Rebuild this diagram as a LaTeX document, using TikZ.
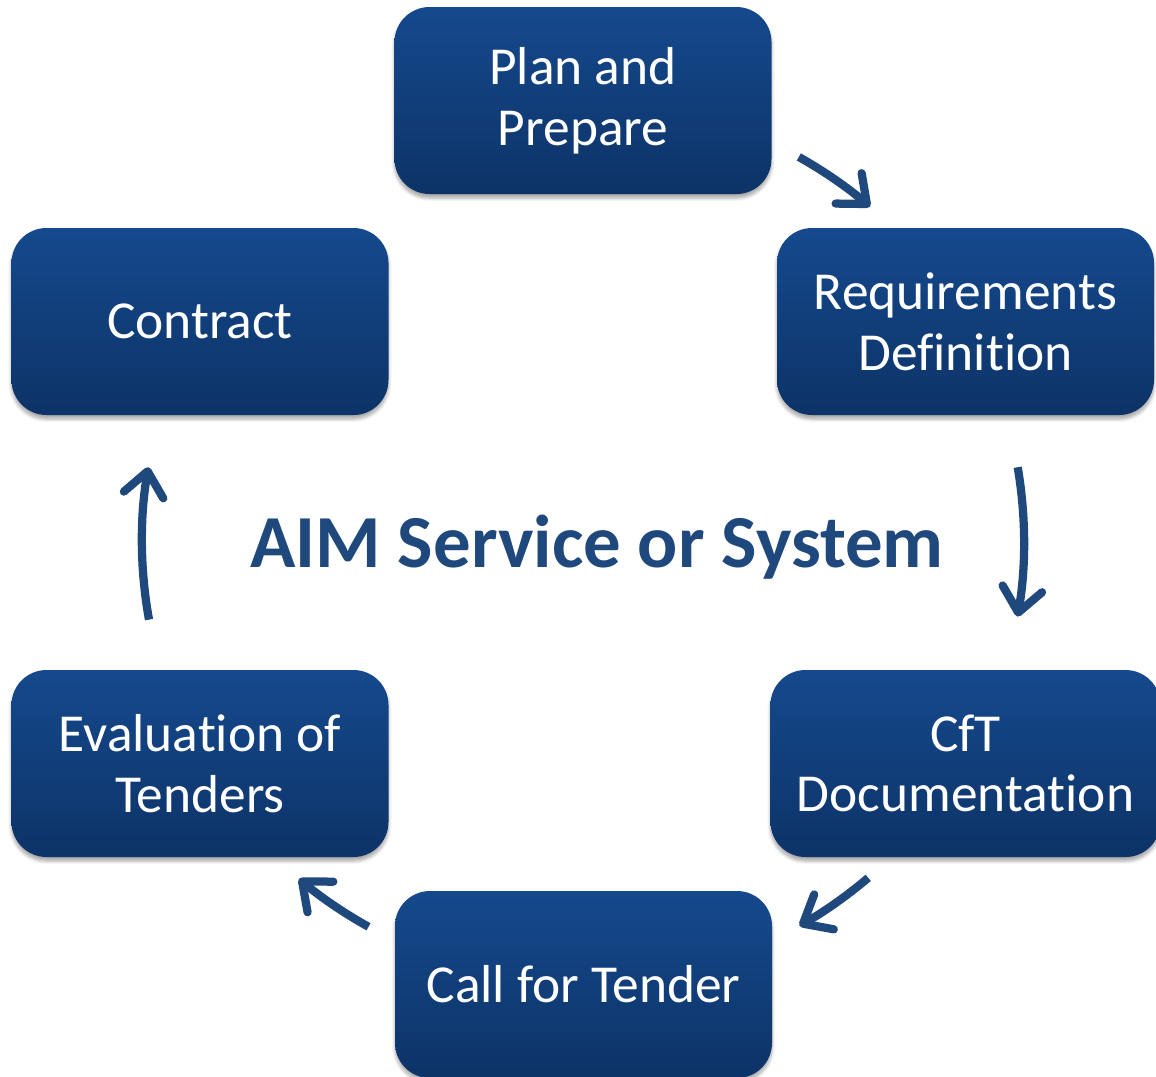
\documentclass[tikz,border=0pt]{standalone}
\usepackage{fontspec}
\setmainfont[Ligatures=NoCommon]{Carlito}
\usepackage{tikz}
\usepackage{xcolor}
\usetikzlibrary{positioning}
\usetikzlibrary{calc}
\usetikzlibrary{arrows.meta}
\usetikzlibrary{shadows.blur}
\definecolor{boxtop}{HTML}{15498D}
\definecolor{boxbottom}{HTML}{0D3367}
\definecolor{aimblue}{HTML}{1F497D}
\tikzstyle{phase} = [rectangle, rounded corners=0.7cm, minimum width=7.54cm, minimum height=3.74cm, text centered, align=center, text=white, top color=boxtop, bottom color=boxbottom, font=\fontsize{30.4}{34.5}\selectfont, blur shadow={shadow xshift=0pt, shadow yshift=-0.08cm, shadow blur steps=6, shadow opacity=35}]
\tikzstyle{arrow} = [aimblue, line width=0.165cm, -{Straight Barb[length=0.48cm, width=0.8cm, round]}]
\tikzstyle{title} = [text=aimblue, font=\fontsize{42.6}{50}\selectfont\bfseries]

\begin{document}
\begin{tikzpicture}[node distance=2cm]
        \useasboundingbox (0,0) rectangle (23.12,-21.52);
        \node (plan) [phase] at (11.66,-2.01) {Plan and\\ Prepare};
        \node (req) [phase, right of=plan, xshift=5.65cm, yshift=-4.42cm] {Requirements\\ Definition};
        \node (cft) [phase, below of=req, xshift=0cm, yshift=-6.84cm, minimum width=7.8cm] {CfT\\ Documentation};
        \node (call) [phase, left of=cft, xshift=-5.64cm, yshift=-4.42cm] {Call for Tender};
        \node (eval) [phase, left of=call, xshift=-5.67cm, yshift=4.42cm] {Evaluation of\\ Tenders};
        \node (contract) [phase, above of=eval, yshift=6.84cm] {Contract};

        \coordinate (hub) at ($(plan)+(0,-8.82)$);
        \node (aim) [title, anchor=base, xshift=0.28cm, yshift=-0.52cm] at (hub) {AIM Service or System};

        \draw [arrow] ($(hub)+(60.7:8.82)$) arc [start angle=60.7, end angle=49.4, radius=8.82];
        \draw [arrow] ($(hub)+(9.7:8.82)$) arc [start angle=9.7, end angle=-9.8, radius=8.82];
        \draw [arrow] ($(hub)+(-49.7:8.82)$) arc [start angle=-49.7, end angle=-60.6, radius=8.82];
        \draw [arrow] ($(hub)+(240.9:8.82)$) arc [start angle=240.9, end angle=229.9, radius=8.82];
        \draw [arrow] ($(hub)+(190.2:8.82)$) arc [start angle=190.2, end angle=170.3, radius=8.82];
    \end{tikzpicture}
\end{document}
